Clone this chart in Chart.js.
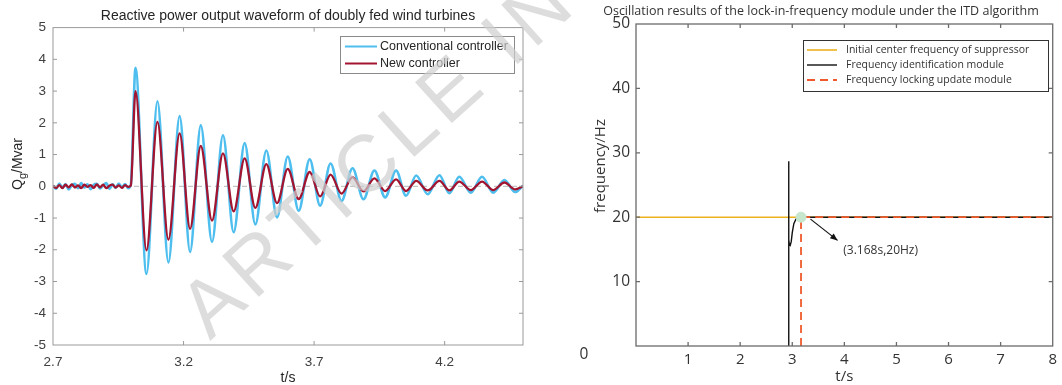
<!DOCTYPE html>
<html>
<head>
<meta charset="utf-8">
<script src="https://cdn.jsdelivr.net/npm/chart.js@4.4.1/dist/chart.umd.min.js"></script>
<style>
  body { margin: 0; background: #fff; }
  #wrap { position: relative; width: 1062px; height: 385px; overflow: hidden; }
  .box { position: absolute; top: 0; height: 385px; }
  #wm { position: absolute; left: 0; top: 0; pointer-events: none; }
</style>
</head>
<body>
<div id="wrap">
  <div class="box" style="left:0;width:540px"><canvas id="qChart"></canvas></div>
  <div class="box" style="left:540px;width:522px"><canvas id="fChart"></canvas></div>
  <svg id="wm" width="1062" height="385">
    <text x="210" y="341" transform="rotate(-42 210 341)" font-family="Liberation Sans" font-size="80"
      letter-spacing="6" fill="#cfcfcf" fill-opacity="0.7">ARTICLE IN PRESS</text>
  </svg>
</div>
<script>
"use strict";

// ---- left chart: reactive power (Mvar) vs t (s)
const qTicksX = [2.7, 3.2, 3.7, 4.2];

// quiet part before the disturbance
const preTimes = [2.700, 2.712, 2.724, 2.736, 2.748, 2.760, 2.772, 2.784, 2.796, 2.808, 2.820, 2.832, 2.844,
  2.856, 2.868, 2.880, 2.892, 2.904, 2.916, 2.928, 2.940, 2.952, 2.964, 2.976, 2.988];
const preConventional = [0.02, -0.08, 0.09, -0.05, 0.07, -0.10, 0.04, 0.08, -0.06, 0.10, -0.04, 0.06, -0.09,
  0.05, 0.08, -0.07, 0.03, 0.10, -0.08, 0.06, -0.05, 0.09, -0.03, 0.07, -0.06];
const preNew = [0.01, -0.05, 0.04, -0.06, 0.05, -0.03, 0.06, -0.04, 0.03, -0.06, 0.05, -0.02, 0.04,
  -0.05, 0.06, -0.03, 0.05, -0.06, 0.02, 0.05, -0.04, 0.03, -0.05, 0.04, -0.02];

// peaks and troughs of the oscillation
const waveTimes = [2.998, 3.016, 3.058, 3.100, 3.142, 3.185, 3.225, 3.266, 3.309, 3.351, 3.392, 3.434, 3.475,
  3.517, 3.558, 3.599, 3.641, 3.683, 3.723, 3.763, 3.805, 3.847, 3.889, 3.931, 3.972, 4.014, 4.052, 4.091,
  4.135, 4.180, 4.218, 4.256, 4.300, 4.343, 4.386, 4.429, 4.470, 4.500];
const waveConventional = [0.05, 3.73, -2.76, 2.68, -2.40, 2.21, -2.07, 1.92, -1.75, 1.61, -1.45, 1.36, -1.20,
  1.13, -0.98, 0.94, -0.77, 0.85, -0.61, 0.72, -0.46, 0.57, -0.41, 0.50, -0.35, 0.50, -0.30, 0.34,
  -0.25, 0.35, -0.22, 0.30, -0.20, 0.30, -0.20, 0.20, -0.18, 0.02];
const waveNew = [0.02, 3.00, -2.02, 2.03, -1.68, 1.67, -1.34, 1.27, -1.08, 1.04, -0.79, 0.88, -0.68,
  0.70, -0.53, 0.55, -0.40, 0.45, -0.32, 0.37, -0.23, 0.29, -0.16, 0.25, -0.15, 0.22, -0.15, 0.17,
  -0.13, 0.17, -0.13, 0.15, -0.12, 0.15, -0.12, 0.12, -0.10, 0.00];

// ---- right chart: frequency (Hz) vs t (s)
const centerT = [0, 8];
const centerF = [20, 20];
const identT = [2.93, 2.93, 2.935, 2.945, 2.96, 2.98, 3.00, 3.03, 3.07, 3.12, 8];
const identF = [0, 28.7, 16.5, 15.7, 15.6, 16.2, 17.6, 19.0, 19.7, 20, 20];
const lockT = [3.168, 3.168, 8];
const lockF = [0, 20, 20];
const lockPoint = { t: 3.168, f: 20 };

const pts = (xs, ys) => xs.map((x, i) => ({ x, y: ys[i] }));

function frame(color, width) {
  return {
    id: "frame",
    afterDatasetsDraw(chart) {
      const { ctx, chartArea: a, scales } = chart;
      ctx.save();
      ctx.strokeStyle = color;
      ctx.lineWidth = width;
      ctx.strokeRect(a.left, a.top, a.right - a.left, a.bottom - a.top);
      ctx.beginPath();
      scales.x.ticks.forEach((t) => {
        const px = scales.x.getPixelForValue(t.value);
        if (px <= a.left + 1 || px >= a.right - 1) return;
        ctx.moveTo(px, a.bottom); ctx.lineTo(px, a.bottom - 4);
        ctx.moveTo(px, a.top); ctx.lineTo(px, a.top + 4);
      });
      scales.y.ticks.forEach((t) => {
        const py = scales.y.getPixelForValue(t.value);
        if (py <= a.top + 1 || py >= a.bottom - 1) return;
        ctx.moveTo(a.left, py); ctx.lineTo(a.left + 4, py);
        ctx.moveTo(a.right, py); ctx.lineTo(a.right - 4, py);
      });
      ctx.stroke();
      ctx.restore();
    },
  };
}

function legendBox(o) {
  return {
    id: "boxLegend",
    afterDraw(chart) {
      const ctx = chart.ctx;
      ctx.save();
      ctx.fillStyle = "#fff";
      ctx.fillRect(o.x, o.y, o.w, o.h);
      ctx.strokeStyle = o.border;
      ctx.lineWidth = 1;
      ctx.strokeRect(o.x + 0.5, o.y + 0.5, o.w, o.h);
      ctx.font = o.font;
      ctx.textBaseline = "middle";
      o.rows.forEach((r) => {
        const ds = chart.data.datasets[r.ds];
        ctx.strokeStyle = ds.borderColor;
        ctx.lineWidth = Math.min(ds.borderWidth, 2);
        ctx.setLineDash(ds.borderDash || []);
        ctx.beginPath();
        ctx.moveTo(o.x0, r.y);
        ctx.lineTo(o.x1, r.y);
        ctx.stroke();
        ctx.setLineDash([]);
        ctx.fillStyle = o.color;
        ctx.fillText(ds.label, o.tx, r.y);
      });
      ctx.restore();
    },
  };
}

// ---------------- left chart
new Chart(document.getElementById("qChart"), {
  type: "scatter",
  data: {
    datasets: [
      {
        label: "Conventional controller",
        data: pts(preTimes.concat(waveTimes), preConventional.concat(waveConventional)),
        borderColor: "#4DBEEE",
        borderWidth: 2.6,
        showLine: true,
        pointRadius: 0,
        cubicInterpolationMode: "monotone",
        order: 2,
      },
      {
        label: "New controller",
        data: pts(preTimes.concat(waveTimes), preNew.concat(waveNew)),
        borderColor: "#A2142F",
        borderWidth: 2.3,
        showLine: true,
        pointRadius: 0,
        cubicInterpolationMode: "monotone",
        order: 1,
      },
      {
        label: "zero",
        data: pts([2.7, 4.5], [0, 0]),
        borderColor: "#c4c4c4",
        borderWidth: 1.2,
        borderDash: [5, 4],
        showLine: true,
        pointRadius: 0,
        order: 3,
      },
    ],
  },
  options: {
    responsive: true,
    maintainAspectRatio: false,
    animation: false,
    devicePixelRatio: 1,
    layout: { padding: { left: 0, right: 17, top: 27.6, bottom: 0 } },
    plugins: {
      legend: { display: false },
      tooltip: { enabled: false },
      title: { display: false },
    },
    scales: {
      x: {
        type: "linear",
        min: 2.7,
        max: 4.5,
        afterBuildTicks: (s) => { s.ticks = qTicksX.map((v) => ({ value: v })); },
        afterFit: (s) => { s.height = 40; },
        grid: { display: false, drawTicks: false },
        border: { display: false },
        ticks: {
          padding: 9,
          color: "#404040",
          font: { family: "Liberation Sans", size: 13.5 },
          callback: (v) => Number(v).toFixed(1),
        },
      },
      y: {
        min: -5,
        max: 5,
        afterFit: (s) => { s.width = 53; },
        grid: { display: false, drawTicks: false },
        border: { display: false },
        ticks: { stepSize: 1, padding: 7, color: "#404040", font: { family: "Liberation Sans", size: 13.5 } },
      },
    },
  },
  plugins: [
    frame("#9a9a9a", 1),
    legendBox({
      x: 340, y: 36, w: 174, h: 37, x0: 345, x1: 377, tx: 380,
      border: "#8a8a8a", color: "#262626", font: "12.5px 'Liberation Sans'",
      rows: [{ ds: 0, y: 46.5 }, { ds: 1, y: 63.5 }],
    }),
    {
      id: "qTitles",
      afterDraw(chart) {
        const { ctx, chartArea: a } = chart;
        const cx = (a.left + a.right) / 2;
        ctx.save();
        ctx.fillStyle = "#262626";
        ctx.textBaseline = "middle";
        ctx.textAlign = "center";
        ctx.font = "14px 'Liberation Sans'";
        ctx.fillText("Reactive power output waveform of doubly fed wind turbines", cx, 16);
        ctx.fillText("t/s", cx, 378);
        // Q_g/Mvar, rotated, subscript g
        ctx.translate(18, 190);
        ctx.rotate(-Math.PI / 2);
        ctx.textAlign = "left";
        ctx.textBaseline = "alphabetic";
        ctx.font = "14px 'Liberation Sans'";
        ctx.fillText("Q", 0, 4);
        let w = ctx.measureText("Q").width;
        ctx.font = "11px 'Liberation Sans'";
        ctx.fillText("g", w, 8);
        w += ctx.measureText("g").width;
        ctx.font = "14px 'Liberation Sans'";
        ctx.fillText("/Mvar", w, 4);
        ctx.restore();
      },
    },
  ],
});

// ---------------- right chart
new Chart(document.getElementById("fChart"), {
  type: "scatter",
  data: {
    datasets: [
      {
        label: "Initial center frequency of suppressor",
        data: pts(centerT, centerF),
        borderColor: "#EDB120",
        borderWidth: 1.6,
        showLine: true,
        pointRadius: 0,
        order: 4,
      },
      {
        label: "Frequency identification module",
        data: pts(identT, identF),
        borderColor: "#111111",
        borderWidth: 1.4,
        showLine: true,
        pointRadius: 0,
        order: 3,
      },
      {
        label: "Frequency locking update module",
        data: pts(lockT, lockF),
        borderColor: "#EE5A2A",
        borderWidth: 1.8,
        borderDash: [8, 5],
        showLine: true,
        pointRadius: 0,
        order: 2,
      },
      {
        label: "lock point",
        data: [{ x: lockPoint.t, y: lockPoint.f }],
        pointRadius: 5,
        pointBackgroundColor: "#c6e6cd",
        pointBorderColor: "#c6e6cd",
        order: 1,
      },
    ],
  },
  options: {
    responsive: true,
    maintainAspectRatio: false,
    animation: false,
    devicePixelRatio: 1,
    layout: { padding: { left: 40, right: 6, top: 24, bottom: 0 } },
    plugins: {
      legend: { display: false },
      tooltip: { enabled: false },
      title: { display: false },
    },
    scales: {
      x: {
        type: "linear",
        min: 0,
        max: 8,
        afterFit: (s) => { s.height = 39; },
        grid: { display: false, drawTicks: false },
        border: { display: false },
        ticks: {
          stepSize: 1,
          padding: 5,
          color: "#333",
          font: { family: "Open Sans", size: 15 },
          callback: (v) => (v === 0 ? "" : v),
        },
      },
      y: {
        min: 0,
        max: 50,
        afterFit: (s) => { s.width = 56; },
        grid: { display: false, drawTicks: false },
        border: { display: false },
        ticks: {
          stepSize: 10,
          padding: 6,
          color: "#333",
          font: { family: "Open Sans", size: 15.5 },
          callback: (v) => (v === 0 ? "" : v),
        },
      },
    },
  },
  plugins: [
    frame("#6b6b6b", 1.3),
    legendBox({
      x: 263, y: 40, w: 245, h: 51, x0: 267, x1: 297, tx: 306,
      border: "#333", color: "#333", font: "10.5px 'Open Sans'",
      rows: [{ ds: 0, y: 50 }, { ds: 1, y: 65 }, { ds: 2, y: 80 }],
    }),
    {
      id: "fNotes",
      afterDraw(chart) {
        const { ctx, chartArea: a, scales } = chart;
        const xs = scales.x, ys = scales.y;
        ctx.save();
        // arrow to the lock point
        const x0 = xs.getPixelForValue(3.35), y0 = ys.getPixelForValue(19.7);
        const x1 = xs.getPixelForValue(3.87), y1 = ys.getPixelForValue(16.4);
        ctx.strokeStyle = "#111";
        ctx.fillStyle = "#111";
        ctx.lineWidth = 1.2;
        ctx.beginPath();
        ctx.moveTo(x0, y0);
        ctx.lineTo(x1, y1);
        ctx.stroke();
        const ang = Math.atan2(y1 - y0, x1 - x0);
        ctx.beginPath();
        ctx.moveTo(x1, y1);
        ctx.lineTo(x1 - 8 * Math.cos(ang - 0.4), y1 - 8 * Math.sin(ang - 0.4));
        ctx.lineTo(x1 - 8 * Math.cos(ang + 0.4), y1 - 8 * Math.sin(ang + 0.4));
        ctx.closePath();
        ctx.fill();
        ctx.fillStyle = "#333";
        ctx.font = "12px 'Open Sans'";
        ctx.textBaseline = "middle";
        ctx.fillText("(3.168s,20Hz)", xs.getPixelForValue(3.98), ys.getPixelForValue(14.8));
        // title
        ctx.textAlign = "center";
        ctx.font = "12.5px 'Open Sans'";
        ctx.fillText("Oscillation results of the lock-in-frequency module under the ITD algorithm", 281, 11);
        // lone zero label at the lower left
        ctx.font = "15.5px 'Open Sans'";
        ctx.fillText("0", 44, 355);
        // axis titles
        ctx.font = "15px 'Open Sans'";
        ctx.fillText("t/s", (a.left + a.right) / 2, 377);
        ctx.translate(61, 166);
        ctx.rotate(-Math.PI / 2);
        ctx.fillText("frequency/Hz", 0, 0);
        ctx.restore();
      },
    },
  ],
});
</script>
</body>
</html>
